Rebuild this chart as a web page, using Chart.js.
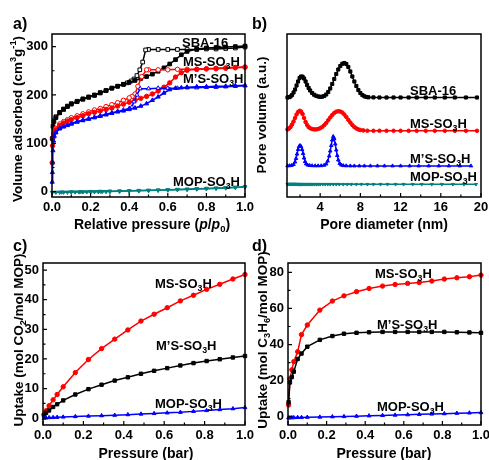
<!DOCTYPE html>
<html><head><meta charset="utf-8">
<script src="https://cdn.jsdelivr.net/npm/chart.js@4/dist/chart.umd.min.js"></script>
<style>
html,body{margin:0;padding:0;background:#fff;}
body{width:489px;height:460px;position:relative;overflow:hidden;}
canvas{position:absolute;left:0;top:0;}
</style></head>
<body>
<canvas id="ca" width="489" height="460"></canvas>
<canvas id="cb" width="489" height="460"></canvas>
<canvas id="cc" width="489" height="460"></canvas>
<canvas id="cd" width="489" height="460"></canvas>
<script>
// ---------- Panel a: N2 isotherms (relative pressure p/p0, volume cm3/g) ----------
const aSBAadsP = [0.001,0.005,0.01,0.02,0.04,0.06,0.08,0.10,0.13,0.16,0.19,0.22,0.25,0.28,0.31,0.34,0.37,0.40,0.43,0.46,0.49,0.52,0.55,0.58,0.61,0.64,0.67,0.70,0.75,0.80,0.85,0.90,0.95,1.00];
const aSBAadsV = [110,135,145,153,163,170,176,181,186,191,195,199,204,209,214,218,222,226,230,234,238,243,249,256,264,273,283,290,295,297,298,299,300,301];
const aSBAdesP = [1.00,0.95,0.90,0.85,0.80,0.75,0.70,0.65,0.60,0.55,0.50,0.485,0.47,0.455,0.44,0.425,0.41,0.39,0.37,0.34,0.31,0.28,0.25,0.22,0.19,0.16,0.13,0.10,0.08,0.06,0.04,0.02];
const aSBAdesV = [299,297,296,295,295,294,294,294,294,294,294,293,268,252,240,233,229,225,222,218,214,209,205,200,196,192,187,182,177,171,164,155];
const aMSadsP = [0.001,0.003,0.006,0.01,0.02,0.04,0.06,0.08,0.10,0.13,0.16,0.19,0.22,0.25,0.28,0.31,0.34,0.37,0.40,0.43,0.46,0.49,0.52,0.55,0.58,0.61,0.64,0.67,0.70,0.75,0.80,0.85,0.90,0.95,1.00];
const aMSadsV = [60,95,112,120,128,137,142,146,149,153,157,161,164,167,170,173,177,181,185,189,193,197,202,208,216,225,237,246,251,253,254,255,256,257,258];
const aMSdesP = [1.00,0.95,0.90,0.85,0.80,0.75,0.70,0.65,0.60,0.55,0.50,0.49,0.465,0.445,0.43,0.415,0.40,0.37,0.34,0.31,0.28,0.25,0.22,0.19,0.16,0.13,0.10,0.08,0.06,0.04,0.02];
const aMSdesV = [257,256,255,254,254,253,253,253,252,252,252,252,238,218,202,197,194,189,184,180,176,172,169,165,161,157,153,149,145,140,131];
const aMSSadsP = [0.001,0.002,0.003,0.005,0.008,0.012,0.02,0.04,0.06,0.08,0.10,0.13,0.16,0.19,0.22,0.25,0.28,0.31,0.34,0.37,0.40,0.43,0.46,0.49,0.52,0.55,0.58,0.61,0.64,0.67,0.70,0.75,0.80,0.85,0.90,0.95,1.00];
const aMSSadsV = [20,40,60,85,105,115,122,130,134,137,140,144,147,150,153,156,159,162,165,167,170,173,177,182,189,196,204,211,214,215,216,217,217,218,218,219,220];
const aMSSdesP = [1.00,0.95,0.90,0.85,0.80,0.75,0.70,0.65,0.60,0.55,0.50,0.457,0.44,0.425,0.414,0.40,0.37,0.34,0.31,0.28,0.25,0.22,0.19,0.16,0.13,0.10,0.08,0.06,0.04,0.02];
const aMSSdesV = [219,218,217,216,216,215,215,214,214,214,213,213,200,186,175,172,169,166,163,160,157,154,151,148,145,141,138,135,131,123];
const aMOPadsP = [0.001,0.02,0.04,0.06,0.08,0.10,0.12,0.14,0.16,0.18,0.20,0.22,0.24,0.26,0.28,0.30,0.35,0.40,0.45,0.50,0.55,0.60,0.65,0.70,0.75,0.80,0.85,0.90,0.95,1.00];
const aMOPadsV = [-1.5,-1.2,-1.2,-1,-1,-0.8,-0.7,-0.6,-0.5,-0.4,-0.3,-0.2,0,0.1,0.2,0.4,0.8,1.2,1.7,2.2,2.8,3.4,4,4.6,5.3,6,6.8,7.6,8.5,9.5];
const aMOPdesP = [1.00,0.95,0.90,0.85,0.80,0.75,0.70,0.65,0.60,0.55,0.50,0.45,0.40,0.35,0.30,0.25,0.20,0.15,0.10,0.05];
const aMOPdesV = [10,9.2,8.3,7.5,6.8,6,5.3,4.7,4.1,3.5,3,2.5,2,1.5,1.1,0.7,0.3,0,-0.3,-0.8];
const aXTicks = [0,0.2,0.4,0.6,0.8,1.0];
const aYTicks = [0,100,200,300];

// ---------- Panel b: pore size distribution (offset curves, a.u.) ----------
const bSBAx = [0.75,0.9,1.05,1.2,1.35,1.5,1.65,1.8,1.95,2.1,2.25,2.4,2.55,2.7,2.85,3.0,3.2,3.4,3.6,3.8,4.0,4.2,4.4,4.6,4.8,5.0,5.2,5.4,5.6,5.8,6.0,6.2,6.4,6.6,6.8,7.0,7.2,7.4,7.6,7.8,8.0,8.2,8.4,8.6,8.8,9.3,9.9,10.6,11.3,12.0,12.8,13.6,14.5,15.4,16.4,17.4,18.5,19.6];
const bSBAy = [99.5,99.8,100.5,102,104.5,107.5,111.5,115.5,119,120.5,120.3,118.5,115.5,112,109,106.5,104,102.3,101.2,100.5,100.2,100.3,101,102.5,105,108.5,113,118,123,127.5,131,133.2,134,133,130,125.5,120.5,115.5,111,107,104,102,100.7,100,99.7,99.6,99.5,99.5,99.5,99.5,99.5,99.5,99.5,99.5,99.5,99.5,99.5,99.5];
const bMSx = [0.75,0.9,1.05,1.2,1.35,1.5,1.65,1.8,1.95,2.1,2.25,2.4,2.55,2.7,2.85,3.0,3.2,3.4,3.6,3.8,4.0,4.2,4.4,4.6,4.8,5.0,5.2,5.4,5.6,5.8,6.0,6.2,6.4,6.6,6.8,7.0,7.2,7.4,7.6,7.8,8.0,8.3,8.7,9.3,9.9,10.6,11.3,12.0,12.8,13.6,14.5,15.4,16.4,17.4,18.5,19.6];
const bMSy = [67.5,68.5,70,72.5,75.5,79,82.5,85,86.2,85.5,83,79,75,72,70,68.8,68,67.6,67.6,68,68.8,70,71.8,74,76.8,79.5,82,84,85.3,85.8,85.5,84.5,82.5,80,77.2,74.5,72,70,68.6,67.6,67,66.6,66.3,66.2,66.2,66.2,66.2,66.2,66.2,66.2,66.2,66.2,66.2,66.2,66.2,66.2];
const bMSSx = [0.75,0.95,1.15,1.35,1.5,1.6,1.7,1.8,1.9,2.0,2.1,2.2,2.3,2.4,2.5,2.6,2.75,2.95,3.2,3.5,3.8,4.1,4.4,4.6,4.75,4.9,5.0,5.1,5.2,5.3,5.4,5.5,5.6,5.7,5.8,5.95,6.1,6.3,6.6,7.0,7.4,7.9,8.4,9.0,9.7,10.4,11.2,12.0,12.9,13.8,14.8,15.8,16.8,17.9,19.0];
const bMSSy = [31.2,31.3,31.6,32.5,35,38.5,43,47.5,50.5,51.5,50.5,47.5,43.5,39,35.5,33.2,32,31.5,31.3,31.2,31.2,31.3,31.8,33,36,41,46,51.5,57,60.5,58.5,53,47,41.5,37,33.5,32,31.4,31.2,31.1,31.1,31.1,31.1,31.1,31.1,31.1,31.1,31.1,31.1,31.1,31.1,31.1,31.1,31.1,31.1];
const bMOPx = [0.75,0.85,0.95,1.05,1.15,1.25,1.35,1.45,1.55,1.65,1.75,1.85,1.95,2.05,2.15,2.3,2.45,2.6,2.75,2.9,3.05,3.2,3.4,3.6,3.8,4.0,4.25,4.5,4.75,5.0,5.3,5.6,5.9,6.3,6.7,7.1,7.6,8.1,8.7,9.3,10.0,10.7,11.5,12.3,13.2,14.1,15.1,16.1,17.2,18.3,19.5];
const bMOPy = [12.8,12.8,12.8,12.8,12.8,12.8,12.8,12.8,12.8,12.8,12.7,12.7,12.7,12.7,12.7,12.7,12.7,12.7,12.7,12.7,12.7,12.7,12.7,12.7,12.7,12.7,12.7,12.7,12.7,12.7,12.7,12.7,12.7,12.7,12.7,12.7,12.7,12.7,12.7,12.7,12.7,12.7,12.7,12.7,12.7,12.7,12.7,12.7,12.7,12.7,12.7];
const bXTicks = [4,8,12,16,20];

// ---------- Panel c: CO2 uptake ----------
const cP = [0.005,0.015,0.03,0.05,0.07,0.1,0.16,0.225,0.29,0.355,0.42,0.485,0.55,0.615,0.68,0.745,0.81,0.875,0.94,1.0];
const cMS = [1.2,2.5,4.2,6.2,8,10.6,15.4,19.8,23.5,26.7,29.8,32.8,35.1,37.3,39.6,41.5,43.5,45.2,47,48.5];
const cMSS = [1.0,1.8,2.6,3.8,4.7,6.0,8.0,9.8,11.3,12.7,13.8,15,16,16.9,17.8,18.6,19.3,19.9,20.5,21];
const cMOP = [0,0.1,0.2,0.25,0.3,0.4,0.55,0.7,0.85,1.0,1.2,1.4,1.6,1.8,2.0,2.3,2.6,2.9,3.2,3.6];
const cYTicks = [0,10,20,30,40,50];

// ---------- Panel d: C3H6 uptake ----------
const dP = [0.003,0.01,0.02,0.03,0.05,0.07,0.1,0.165,0.23,0.29,0.355,0.42,0.49,0.555,0.62,0.68,0.745,0.81,0.875,0.94,1.0];
const dMS = [6.5,21,26,30.5,36,45.5,50.8,59.1,64.1,67,69.3,71.1,72.4,73.3,73.9,74.4,75.2,76.3,77,77.6,78.5];
const dMSS = [8,19,22,25,32,35,38.8,42.6,44.7,46,46.5,46.8,47,47,47,47,47,47,46.8,46.7,46.5];
const dMOP = [-0.6,-0.6,-0.5,-0.5,-0.4,-0.4,-0.3,-0.2,0,0.1,0.3,0.5,0.7,0.9,1.1,1.3,1.5,1.7,1.9,2.1,2.3];
const dYTicks = [0,20,40,60,80];
const pXTicks = [0,0.2,0.4,0.6,0.8,1.0];

// ---------- helpers ----------
const W = 489, H = 460;
const FAM = '"Liberation Sans", Arial, Helvetica, sans-serif';
const TICKFONT = {family: FAM, size: 13, weight: 'bold'};
const BLACK = '#000000', RED = '#ff0000', BLUE = '#0000ff', TEAL = '#008080';
const pts = (xs, ys) => xs.map((x, i) => ({x: x, y: ys[i]}));

function rich(ctx, str, x, y, size, align, rot) {
  const segs = [];
  let i = 0;
  while (i < str.length) {
    if (str[i] === '{') {
      const j = str.indexOf('}', i);
      const inner = str.slice(i + 1, j);
      segs.push({k: inner[0], t: inner.slice(1)});
      i = j + 1;
    } else {
      let j = i;
      while (j < str.length && str[j] !== '{') j++;
      segs.push({k: '', t: str.slice(i, j)});
      i = j;
    }
  }
  const fontOf = s => {
    const small = s.k === '_' || s.k === '^';
    return (s.k === '/' ? 'italic ' : '') + 'bold ' + (small ? (size * 0.68).toFixed(1) : size) + 'px ' + FAM;
  };
  ctx.save();
  ctx.translate(x, y);
  if (rot) ctx.rotate(rot);
  let total = 0;
  segs.forEach(s => { ctx.font = fontOf(s); s.w = ctx.measureText(s.t).width; total += s.w; });
  let cx = align === 'center' ? -total / 2 : (align === 'right' ? -total : 0);
  const base = 0.36 * size;
  ctx.fillStyle = '#000';
  ctx.textBaseline = 'alphabetic';
  ctx.textAlign = 'left';
  segs.forEach(s => {
    ctx.font = fontOf(s);
    const dy = s.k === '_' ? base + 0.24 * size : (s.k === '^' ? base - 0.40 * size : base);
    ctx.fillText(s.t, cx, dy);
    cx += s.w;
  });
  ctx.restore();
}

function decor(cfg) {
  return {
    id: 'decor',
    afterDatasetsDraw(chart) {
      const ctx = chart.ctx, a = chart.chartArea, xs = chart.scales.x, ys = chart.scales.y;
      ctx.save();
      ctx.strokeStyle = '#000';
      ctx.lineWidth = 1.2;
      ctx.beginPath();
      (cfg.xMajor || []).forEach(v => { const p = xs.getPixelForValue(v); ctx.moveTo(p, a.bottom); ctx.lineTo(p, a.bottom - 4); });
      (cfg.xMinor || []).forEach(v => { const p = xs.getPixelForValue(v); ctx.moveTo(p, a.bottom); ctx.lineTo(p, a.bottom - 2.5); });
      (cfg.yMajor || []).forEach(v => { const p = ys.getPixelForValue(v); ctx.moveTo(a.left, p); ctx.lineTo(a.left + 4, p); });
      (cfg.yMinor || []).forEach(v => { const p = ys.getPixelForValue(v); ctx.moveTo(a.left, p); ctx.lineTo(a.left + 2.5, p); });
      ctx.stroke();
      ctx.lineWidth = 1.5;
      ctx.strokeRect(a.left, a.top, a.right - a.left, a.bottom - a.top);
      ctx.restore();
    },
    afterDraw(chart) {
      const ctx = chart.ctx;
      (cfg.texts || []).forEach(t => rich(ctx, t.s, t.x, t.y, t.size || 13, t.align || 'left', t.rot || 0));
    }
  };
}

function ds(xs, ys, color, style, open, radius, rot) {
  return {
    data: pts(xs, ys),
    borderColor: color,
    backgroundColor: color,
    borderWidth: 1.5,
    pointStyle: style,
    pointRadius: radius,
    pointRotation: rot || 0,
    pointBorderColor: color,
    pointBorderWidth: 1,
    pointBackgroundColor: open ? '#ffffff' : color,
    tension: 0,
    fill: false,
    clip: false
  };
}

function makeChart(id, area, sx, sy, datasets, cfg) {
  const YW = 40, XH = 24;
  return new Chart(document.getElementById(id), {
    type: 'line',
    data: {datasets: datasets},
    options: {
      responsive: false,
      animation: false,
      devicePixelRatio: 1,
      events: [],
      layout: {padding: {left: area.l - YW, right: W - area.r, top: area.t, bottom: H - area.b - XH}},
      plugins: {legend: {display: false}, tooltip: {enabled: false}},
      scales: {
        x: {
          type: 'linear', position: 'bottom', min: sx.min, max: sx.max,
          afterBuildTicks: s => { s.ticks = sx.ticks.map(v => ({value: v})); },
          afterFit: s => { s.height = XH; s.paddingLeft = 0; s.paddingRight = 0; s.paddingTop = 0; s.paddingBottom = 0; },
          ticks: {display: true, autoSkip: false, maxRotation: 0, minRotation: 0, padding: 3, color: '#000', font: TICKFONT, callback: sx.fmt},
          grid: {display: false, drawTicks: false},
          border: {display: false}
        },
        y: {
          type: 'linear', position: 'left', min: sy.min, max: sy.max,
          afterBuildTicks: s => { s.ticks = sy.ticks.map(v => ({value: v})); },
          afterFit: s => { s.width = YW; s.paddingLeft = 0; s.paddingRight = 0; s.paddingTop = 0; s.paddingBottom = 0; },
          ticks: {display: sy.labels !== false, autoSkip: false, padding: 4, color: '#000', font: TICKFONT, callback: sy.fmt},
          grid: {display: false, drawTicks: false},
          border: {display: false}
        }
      }
    },
    plugins: [decor(cfg)]
  });
}

const f1 = v => Number(v).toFixed(1);
const f0 = v => String(Math.round(v));
const ROT = -Math.PI / 2;

// ---------- Panel a ----------
makeChart('ca', {l: 52, r: 245, t: 34, b: 197},
  {min: 0, max: 1, ticks: aXTicks, fmt: f1},
  {min: -11, max: 326, ticks: aYTicks, fmt: f0},
  [
    ds(aMOPadsP, aMOPadsV, TEAL, 'triangle', false, 2.2, 180),
    ds(aMOPdesP, aMOPdesV, TEAL, 'triangle', true, 2.2, 180),
    ds(aMSSadsP, aMSSadsV, BLUE, 'triangle', false, 2.4),
    ds(aMSSdesP, aMSSdesV, BLUE, 'triangle', true, 2.4),
    ds(aMSadsP, aMSadsV, RED, 'circle', false, 2.2),
    ds(aMSdesP, aMSdesV, RED, 'circle', true, 2.2),
    ds(aSBAadsP, aSBAadsV, BLACK, 'rect', false, 2.6),
    ds(aSBAdesP, aSBAdesV, BLACK, 'rect', true, 2.6)
  ],
  {
    xMajor: aXTicks, xMinor: [0.1, 0.3, 0.5, 0.7, 0.9],
    yMajor: aYTicks, yMinor: [50, 150, 250],
    texts: [
      {s: 'a)', x: 13, y: 23, size: 16},
      {s: 'SBA-16', x: 182, y: 42.5},
      {s: 'MS-SO{_3}H', x: 183, y: 61.5},
      {s: 'M\u2019S-SO{_3}H', x: 183, y: 78.5},
      {s: 'MOP-SO{_3}H', x: 173, y: 181.5},
      {s: 'Relative pressure ({/p}/{/p}{_0})', x: 152, y: 224, size: 14, align: 'center'},
      {s: 'Volume adsorbed (cm{^3}g{^-1})', x: 17, y: 119, size: 13.5, align: 'center', rot: ROT}
    ]
  });

// ---------- Panel b ----------
makeChart('cb', {l: 287, r: 481, t: 34, b: 197},
  {min: 0.7, max: 20, ticks: bXTicks, fmt: f0},
  {min: 0, max: 163, ticks: [], labels: false, fmt: f0},
  [
    ds(bMOPx, bMOPy, TEAL, 'triangle', false, 1.8, 180),
    ds(bMSSx, bMSSy, BLUE, 'triangle', false, 2.0),
    ds(bMSx, bMSy, RED, 'circle', false, 1.8),
    ds(bSBAx, bSBAy, BLACK, 'rect', false, 2.2)
  ],
  {
    xMajor: bXTicks, xMinor: [2, 6, 10, 14, 18],
    texts: [
      {s: 'b)', x: 252, y: 23, size: 16},
      {s: 'SBA-16', x: 410, y: 90},
      {s: 'MS-SO{_3}H', x: 410, y: 123.5},
      {s: 'M\u2019S-SO{_3}H', x: 410, y: 158.5},
      {s: 'MOP-SO{_3}H', x: 410, y: 176.5},
      {s: 'Pore diameter (nm)', x: 384, y: 224, size: 14, align: 'center'},
      {s: 'Pore volume (a.u.)', x: 261, y: 115, size: 13.5, align: 'center', rot: ROT}
    ]
  });

// ---------- Panel c ----------
makeChart('cc', {l: 43, r: 245, t: 263, b: 425},
  {min: 0, max: 1, ticks: pXTicks, fmt: f1},
  {min: -2.3, max: 52.4, ticks: cYTicks, fmt: f0},
  [
    ds(cP, cMOP, BLUE, 'triangle', false, 2.2),
    ds(cP, cMSS, BLACK, 'rect', false, 2.4),
    ds(cP, cMS, RED, 'circle', false, 2.2)
  ],
  {
    xMajor: pXTicks, xMinor: [0.1, 0.3, 0.5, 0.7, 0.9],
    yMajor: cYTicks, yMinor: [5, 15, 25, 35, 45],
    texts: [
      {s: 'c)', x: 13, y: 245, size: 16},
      {s: 'MS-SO{_3}H', x: 155, y: 283.5},
      {s: 'M\u2019S-SO{_3}H', x: 156, y: 345},
      {s: 'MOP-SO{_3}H', x: 155, y: 403.5},
      {s: 'Pressure (bar)', x: 146, y: 453, size: 14, align: 'center'},
      {s: 'Uptake (mol CO{_2}/mol MOP)', x: 18, y: 340, size: 13.5, align: 'center', rot: ROT}
    ]
  });

// ---------- Panel d ----------
makeChart('cd', {l: 288, r: 481, t: 263, b: 425},
  {min: 0, max: 1, ticks: pXTicks, fmt: f1},
  {min: -4.6, max: 85.2, ticks: dYTicks, fmt: f0},
  [
    ds(dP, dMOP, BLUE, 'triangle', false, 2.2),
    ds(dP, dMSS, BLACK, 'rect', false, 2.4),
    ds(dP, dMS, RED, 'circle', false, 2.2)
  ],
  {
    xMajor: pXTicks, xMinor: [0.1, 0.3, 0.5, 0.7, 0.9],
    yMajor: dYTicks, yMinor: [10, 30, 50, 70],
    texts: [
      {s: 'd)', x: 252, y: 245, size: 16},
      {s: 'MS-SO{_3}H', x: 375, y: 273.5},
      {s: 'M\u2019S-SO{_3}H', x: 377, y: 324},
      {s: 'MOP-SO{_3}H', x: 377, y: 406.5},
      {s: 'Pressure (bar)', x: 384, y: 453, size: 14, align: 'center'},
      {s: 'Uptake (mol C{_3}H{_6}/mol MOP)', x: 262, y: 340, size: 13.5, align: 'center', rot: ROT}
    ]
  });
</script>
</body></html>
